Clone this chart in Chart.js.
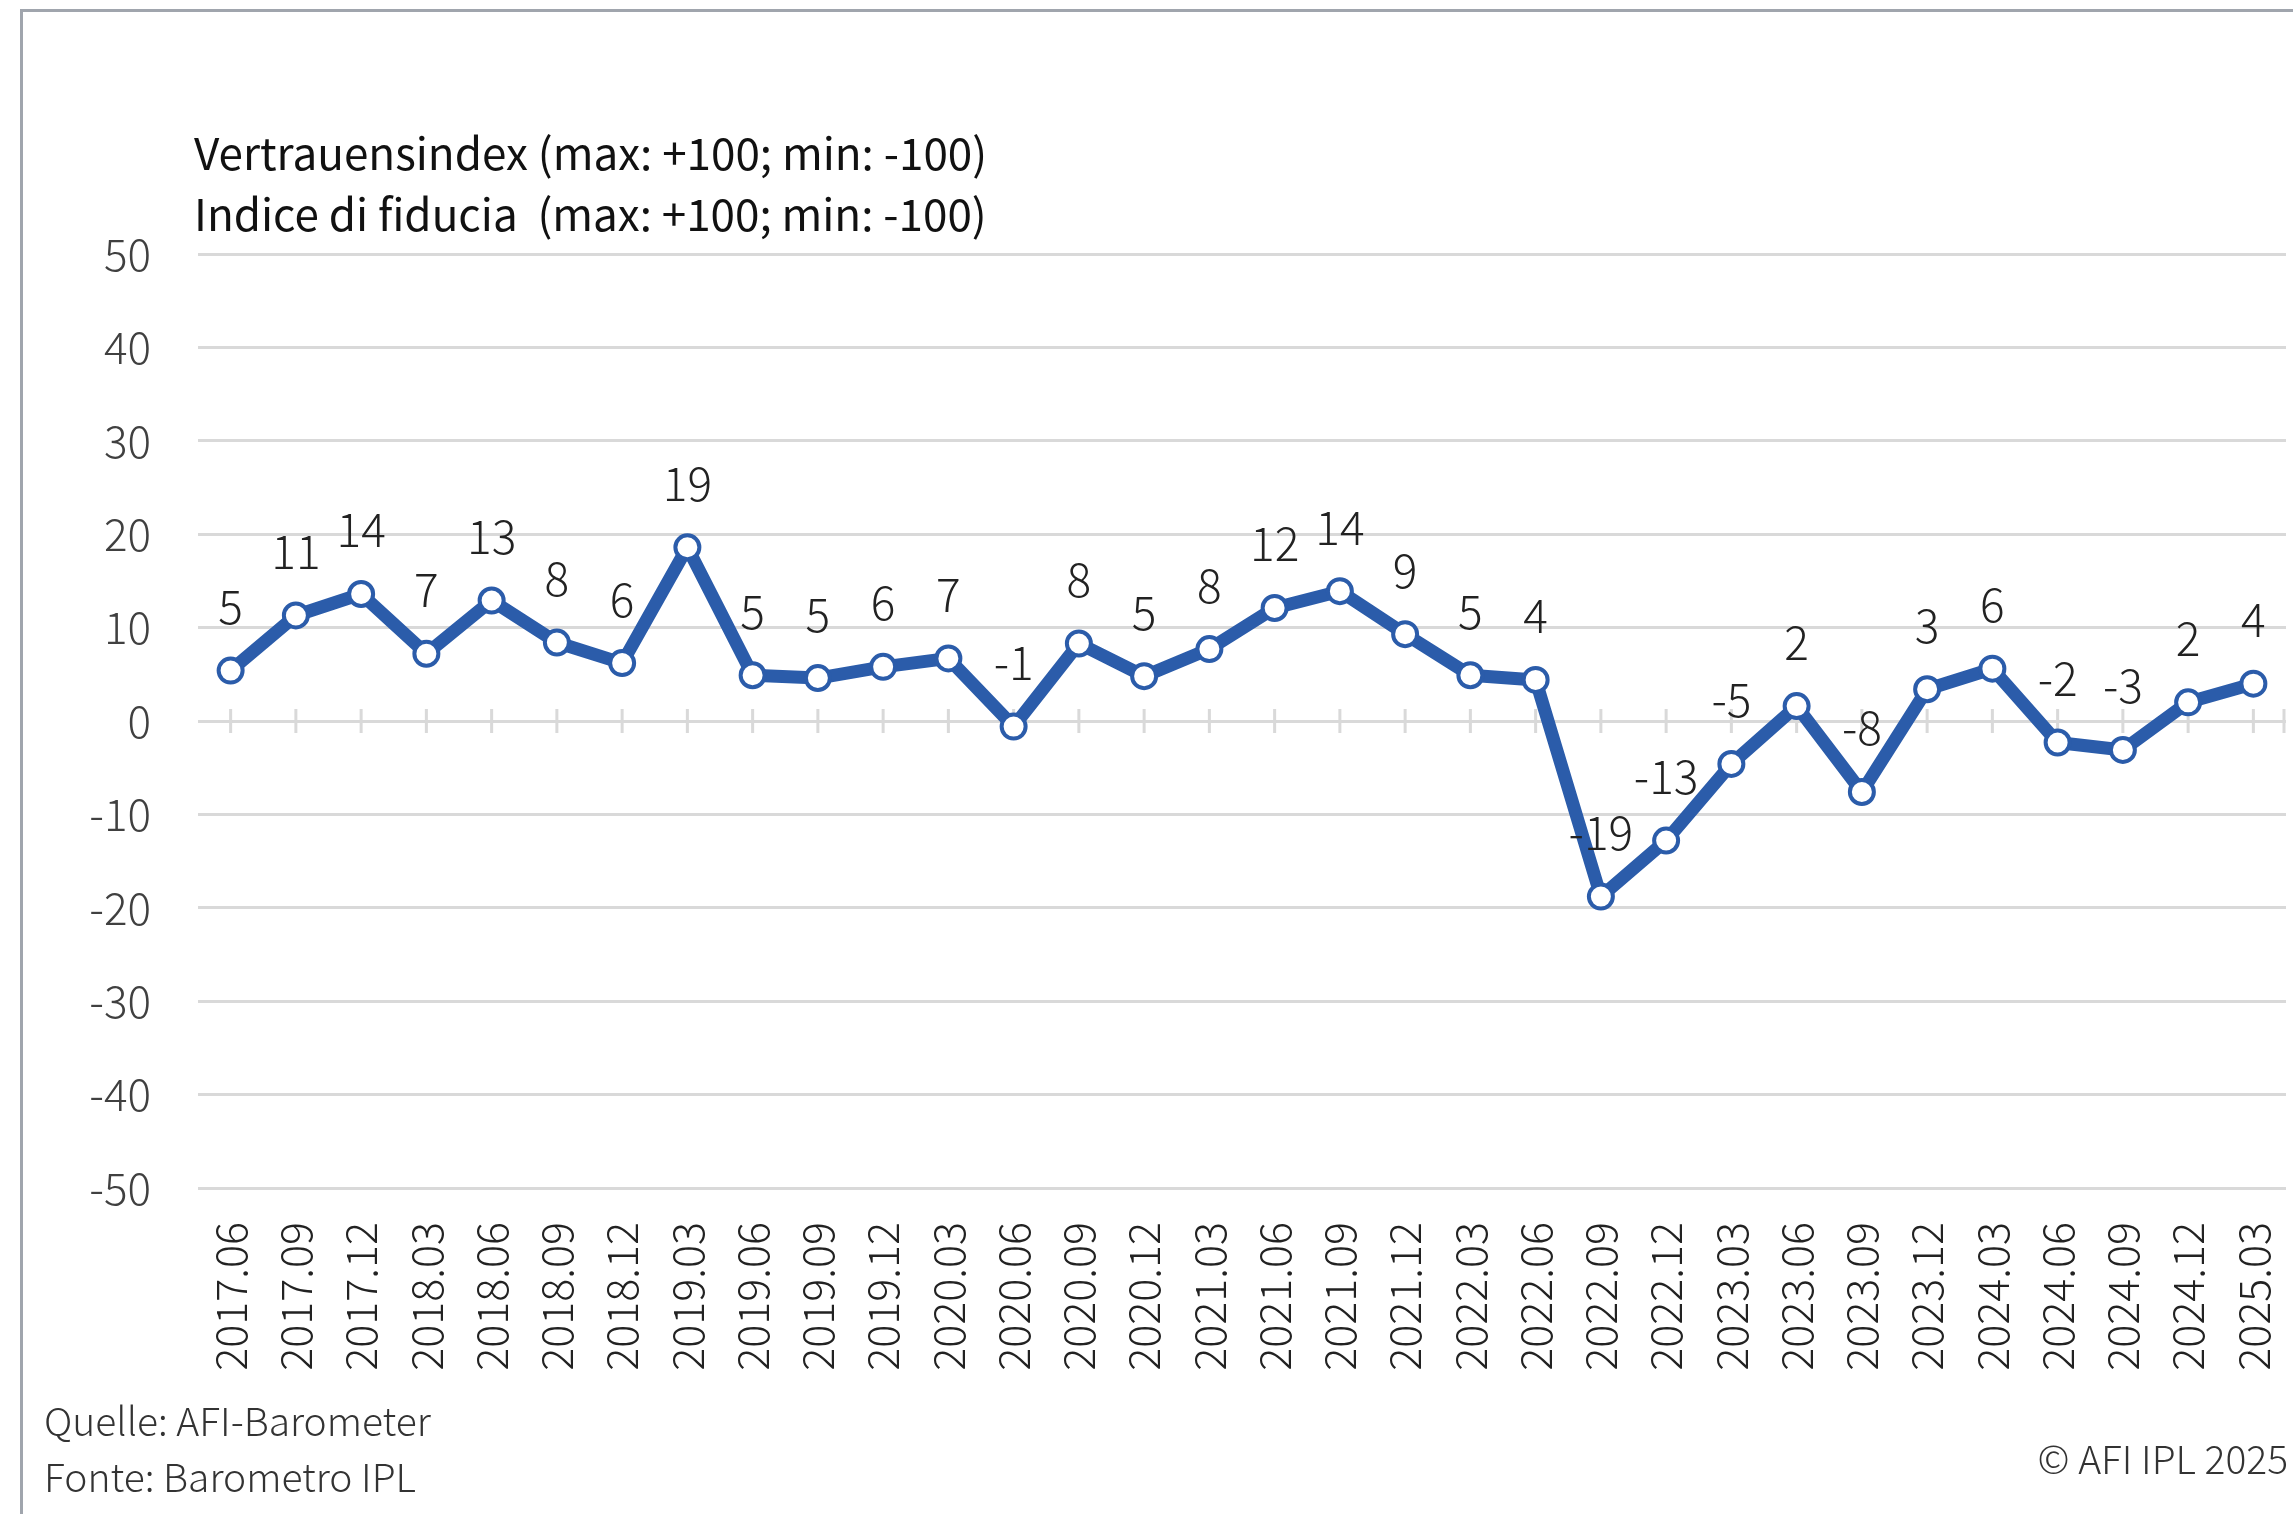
<!DOCTYPE html>
<html>
<head>
<meta charset="utf-8">
<script src="https://cdn.jsdelivr.net/npm/chart.js@4.4.1/dist/chart.umd.min.js"></script>
<style>
  html, body { margin: 0; padding: 0; background: #fff; }
  body { width: 2293px; height: 1514px; position: relative; overflow: hidden; font-family: 'Noto Sans CJK JP', 'Noto Sans', sans-serif; }
  #frame { position: absolute; left: 20px; top: 9px; width: 2400px; height: 1600px; border-left: 3px solid #a0a5ad; border-top: 3px solid #a0a5ad; }
  #wrap { position: absolute; left: 0; top: 0; width: 2293px; height: 1514px; }
  .txt { position: absolute; white-space: pre; line-height: 1; }
  .title { left: 194px; font-size: 44px; font-weight: 400; color: #111; }
  .note { font-size: 39px; font-weight: 300; color: #333; }
</style>
</head>
<body>
<div id="frame"></div>
<div id="wrap"><canvas id="chart" width="2293" height="1514"></canvas></div>
<div class="txt title" style="top:129px">Vertrauensindex (max: +100; min: -100)</div>
<div class="txt title" style="top:190px">Indice di fiducia  (max: +100; min: -100)</div>
<div class="txt note" style="left:44px; top:1400px">Quelle: AFI-Barometer</div>
<div class="txt note" style="left:44px; top:1456px">Fonte: Barometro IPL</div>
<div class="txt note" style="right:5px; top:1438px">© AFI IPL 2025</div>
<script>
const categories = [
    "2017.06", "2017.09", "2017.12", "2018.03", "2018.06", "2018.09", "2018.12",
    "2019.03", "2019.06", "2019.09", "2019.12", "2020.03", "2020.06", "2020.09",
    "2020.12", "2021.03", "2021.06", "2021.09", "2021.12", "2022.03", "2022.06",
    "2022.09", "2022.12", "2023.03", "2023.06", "2023.09", "2023.12", "2024.03",
    "2024.06", "2024.09", "2024.12", "2025.03"
];

// Vertrauensindex / Indice di fiducia
const indexValues = [
    5.4, 11.3, 13.6, 7.2, 12.9, 8.4, 6.2,
    18.6, 4.9, 4.6, 5.8, 6.7, -0.6, 8.3,
    4.8, 7.7, 12.1, 13.9, 9.3, 4.9, 4.4,
    -18.8, -12.8, -4.6, 1.6, -7.6, 3.4, 5.6,
    -2.3, -3.1, 2.0, 4.0
];

// y axis ticks
const yMin = -50;
const yMax = 50;
const yStep = 10;

const fontFamily = "'Noto Sans CJK JP', 'Noto Sans', sans-serif";
const lineBlue = "#2b5caa";
const gridGrey = "#d9d9d9";

// small tick marks crossing the zero line (one per category, plus the right end)
const zeroTicks = {
    id: "zeroTicks",
    beforeDatasetsDraw(chart) {
        const ctx = chart.ctx;
        const xScale = chart.scales.x;
        const y0 = chart.scales.y.getPixelForValue(0);
        const xs = categories.map((c, i) => xScale.getPixelForValue(i));
        xs.push(chart.chartArea.right - 2);
        ctx.save();
        ctx.strokeStyle = gridGrey;
        ctx.lineWidth = 3;
        ctx.beginPath();
        xs.forEach(x => {
            ctx.moveTo(x, y0 - 12);
            ctx.lineTo(x, y0 + 12);
        });
        ctx.stroke();
        ctx.restore();
    }
};

// rounded value above every point
const valueLabels = {
    id: "valueLabels",
    afterDatasetsDraw(chart) {
        const ctx = chart.ctx;
        const meta = chart.getDatasetMeta(0);
        ctx.save();
        ctx.font = "300 46px " + fontFamily;
        ctx.fillStyle = "#222";
        ctx.textAlign = "center";
        ctx.textBaseline = "middle";
        meta.data.forEach((pt, i) => {
            ctx.fillText(String(Math.round(indexValues[i])), pt.x, pt.y - 64);
        });
        ctx.restore();
    }
};

const ctx = document.getElementById("chart");

new Chart(ctx, {
    type: "line",
    data: {
        labels: categories,
        datasets: [{
            data: indexValues,
            borderColor: lineBlue,
            borderWidth: 13,
            borderJoinStyle: "round",
            pointRadius: 12,
            pointBorderWidth: 4,
            pointBackgroundColor: "#ffffff",
            pointBorderColor: lineBlue,
            tension: 0
        }]
    },
    options: {
        responsive: false,
        animation: false,
        layout: {
            autoPadding: false,
            padding: { top: 254, right: 7, left: 0, bottom: 0 }
        },
        plugins: {
            legend: { display: false },
            tooltip: { enabled: false }
        },
        scales: {
            x: {
                offset: true,
                grid: { display: false, drawTicks: false },
                border: { display: false },
                ticks: {
                    autoSkip: false,
                    maxRotation: 90,
                    minRotation: 90,
                    padding: 34,
                    color: "#222",
                    font: { family: fontFamily, size: 43, weight: 300 }
                },
                afterFit(scale) {
                    scale.height = 326;
                    scale.paddingLeft = 0;
                    scale.paddingRight = 0;
                }
            },
            y: {
                min: yMin,
                max: yMax,
                ticks: {
                    stepSize: yStep,
                    padding: 47,
                    color: "#404040",
                    font: { family: fontFamily, size: 44, weight: 300 }
                },
                grid: { color: gridGrey, lineWidth: 3, drawTicks: false },
                border: { display: false },
                afterFit(scale) { scale.width = 198; }
            }
        }
    },
    plugins: [zeroTicks, valueLabels]
});
</script>
</body>
</html>
